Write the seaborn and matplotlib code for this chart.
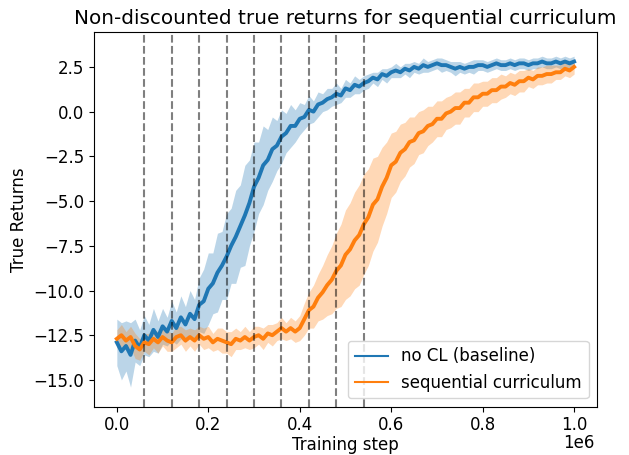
import numpy as np
import matplotlib
matplotlib.use("Agg")
import matplotlib.pyplot as plt
import seaborn as sns

# training steps, one reading every 10k steps
steps = np.arange(101) * 10000

stage_boundaries = [60000, 120000, 180000, 240000, 300000, 360000, 420000, 480000, 540000]

baseline_mean = [
    -12.9, -13.4, -13.1, -13.6, -12.8, -13.2, -12.5, -12.8, -12.2, -12.6,
    -12.0, -12.3, -11.7, -12.1, -11.5, -11.9, -11.3, -11.6, -10.8, -10.6,
    -9.9, -9.6, -9.0, -8.6, -8.1, -7.5, -7.0, -6.4, -5.8, -5.1,
    -4.2, -3.7, -3.0, -2.7, -2.1, -1.9, -1.4, -1.2, -0.8, -0.8,
    -0.4, -0.3, 0.1, 0.0, 0.4, 0.5, 0.7, 0.8, 1.0, 0.9,
    1.3, 1.2, 1.5, 1.4, 1.6, 1.7, 1.9, 1.8, 2.1, 2.0,
    2.2, 2.3, 2.2, 2.4, 2.3, 2.5, 2.4, 2.6, 2.5, 2.6,
    2.7, 2.6, 2.6, 2.5, 2.4, 2.5, 2.4, 2.5, 2.5, 2.6,
    2.6, 2.5, 2.6, 2.7, 2.6, 2.6, 2.7, 2.6, 2.7, 2.7,
    2.6, 2.7, 2.7, 2.8, 2.7, 2.7, 2.8, 2.7, 2.8, 2.7,
    2.8,
]
baseline_spread = [
    1.3, 1.6, 1.4, 1.8, 1.2, 1.0, 1.1, 0.9, 1.2, 0.9,
    1.0, 0.8, 1.1, 0.9, 1.2, 1.0, 1.3, 1.1, 1.5, 1.8,
    2.0, 1.7, 2.2, 1.9, 2.4, 2.1, 2.6, 2.3, 2.8, 2.4,
    2.5, 2.0, 2.2, 1.7, 1.8, 1.4, 1.5, 1.1, 1.2, 0.9,
    0.9, 0.7, 0.8, 0.6, 0.7, 0.5, 0.6, 0.5, 0.6, 0.4,
    0.5, 0.4, 0.5, 0.4, 0.4, 0.4, 0.3, 0.4, 0.3, 0.4,
    0.3, 0.4, 0.3, 0.3, 0.4, 0.3, 0.3, 0.4, 0.3, 0.3,
    0.3, 0.4, 0.3, 0.3, 0.4, 0.3, 0.3, 0.3, 0.4, 0.3,
    0.3, 0.3, 0.3, 0.3, 0.3, 0.3, 0.3, 0.3, 0.3, 0.3,
    0.3, 0.3, 0.3, 0.3, 0.3, 0.3, 0.3, 0.3, 0.3, 0.3,
    0.3,
]

seq_mean = [
    -12.7, -12.5, -12.8, -12.6, -13.1, -13.3, -12.9, -13.0, -12.7, -12.9,
    -12.6, -12.8, -12.9, -12.6, -12.5, -12.8, -12.6, -12.8, -12.5, -12.7,
    -12.6, -12.9, -12.7, -12.8, -12.9, -13.0, -12.7, -12.8, -12.6, -12.8,
    -12.6, -12.5, -12.7, -12.4, -12.5, -12.3, -12.1, -12.3, -12.1, -12.3,
    -12.1, -11.6, -11.1, -10.9, -10.4, -10.1, -9.7, -9.4, -8.9, -8.6,
    -8.0, -7.7, -7.2, -6.9, -6.3, -5.9, -5.2, -4.9, -4.2, -3.7,
    -3.0, -2.8, -2.3, -2.1, -1.7, -1.6, -1.2, -1.1, -0.8, -0.7,
    -0.4, -0.4, -0.1, 0.0, 0.2, 0.2, 0.5, 0.5, 0.8, 0.8,
    1.0, 1.0, 1.2, 1.2, 1.4, 1.4, 1.6, 1.5, 1.7, 1.7,
    1.9, 1.8, 2.0, 2.0, 2.1, 2.1, 2.2, 2.2, 2.4, 2.3,
    2.5,
]
seq_spread = [
    0.5, 0.6, 0.5, 0.6, 0.7, 0.6, 0.5, 0.6, 0.5, 0.6,
    0.5, 0.6, 0.5, 0.6, 0.5, 0.6, 0.5, 0.6, 0.5, 0.6,
    0.6, 0.5, 0.6, 0.7, 0.6, 0.7, 0.6, 0.5, 0.6, 0.5,
    0.6, 0.5, 0.6, 0.5, 0.6, 0.5, 0.6, 0.5, 0.6, 0.6,
    0.7, 0.9, 1.0, 1.2, 1.3, 1.5, 1.7, 1.9, 2.1, 2.3,
    2.5, 2.6, 2.7, 2.8, 2.8, 2.7, 2.6, 2.4, 2.2, 2.0,
    1.8, 1.7, 1.6, 1.5, 1.4, 1.3, 1.2, 1.2, 1.1, 1.0,
    1.0, 1.0, 0.9, 0.9, 0.9, 0.9, 0.8, 0.8, 0.8, 0.8,
    0.7, 0.7, 0.7, 0.7, 0.7, 0.6, 0.6, 0.6, 0.6, 0.6,
    0.5, 0.5, 0.5, 0.5, 0.5, 0.5, 0.4, 0.4, 0.4, 0.4,
    0.4,
]

plt.rcParams['font.size'] = 12
plt.rcParams['font.family'] = ['DejaVu Sans']

fig, ax = plt.subplots(figsize=(6.29, 4.55), dpi=100)
fig.subplots_adjust(left=0.1494, right=0.9491, top=0.930, bottom=0.106)

runs = [
    ("no CL (baseline)", baseline_mean, baseline_spread, "tab:blue"),
    ("sequential curriculum", seq_mean, seq_spread, "tab:orange"),
]
for label, mean, spread, color in runs:
    mean = np.array(mean)
    spread = np.array(spread)
    sns.lineplot(x=steps, y=mean, ax=ax, color=color, linewidth=2.8, label=label)
    ax.fill_between(steps, mean - spread, mean + spread, color=color, alpha=0.3, linewidth=0)

for b in stage_boundaries:
    ax.axvline(b, color='k', linestyle='--', alpha=0.5, linewidth=1.5)

ax.set_xlim(-50000, 1050000)
ax.set_ylim(-16.5, 4.46)
ax.set_xlabel("Training step", labelpad=1)
ax.set_ylabel("True Returns")
ax.set_title("Non-discounted true returns for sequential curriculum")

# x ticks shown in units of 1e6, scale note placed like the original
ax.set_xticks([0, 200000, 400000, 600000, 800000, 1000000])
ax.set_xticklabels(["0.0", "0.2", "0.4", "0.6", "0.8", "1.0"])
ax.annotate("1e6", xy=(1, 0), xycoords='axes fraction', xytext=(-2, -27),
            textcoords='offset pixels', ha='right', va='top')

leg = ax.legend(loc='lower right')
for line in leg.get_lines():
    line.set_linewidth(1.5)

fig.savefig("out.png", dpi=100)
